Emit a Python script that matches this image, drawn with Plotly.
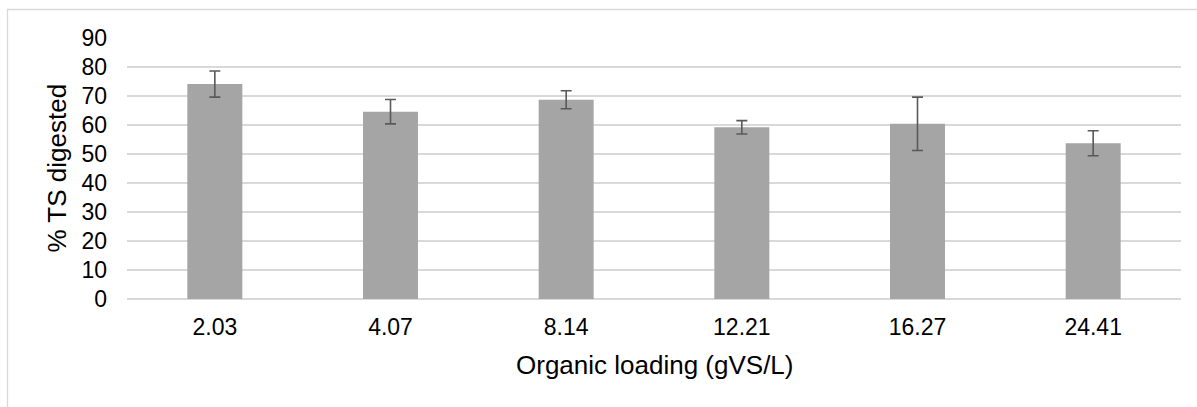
import plotly.graph_objects as go

categories = ["2.03", "4.07", "8.14", "12.21", "16.27", "24.41"]
ts_digested = [74.1, 64.6, 68.7, 59.2, 60.4, 53.7]
error_vals = [4.5, 4.2, 3.1, 2.3, 9.2, 4.3]
y_ticks = [0, 10, 20, 30, 40, 50, 60, 70, 80, 90]

W, H = 1197, 407
L, R, T, B = 127, 16, 38, 108
pw, ph = W - L - R, H - T - B

def px_x(p):
    return (p - L) / pw

def px_y(p):
    return (H - B - p) / ph

fig = go.Figure()
fig.add_trace(go.Bar(
    x=categories, y=ts_digested,
    marker=dict(color="#a5a5a5", line=dict(width=0)),
    width=0.313,
    error_y=dict(type="data", array=error_vals, visible=True,
                 color="#595959", thickness=1.6, width=5.5),
))

fig.update_layout(
    width=W, height=H,
    margin=dict(l=L, r=R, t=T, b=B),
    paper_bgcolor="white", plot_bgcolor="white",
    font=dict(family="Liberation Sans, Arial, sans-serif", color="#000000", size=23),
    showlegend=False,
    bargap=0.687,
    xaxis=dict(type="category", showgrid=False, zeroline=False, showline=False,
               ticks="", tickfont=dict(size=23), ticklabelstandoff=12),
    yaxis=dict(range=[0, 90], tickvals=y_ticks, showgrid=True, gridcolor="#d9d9d9",
               gridwidth=1.5, zeroline=True, zerolinecolor="#d9d9d9", zerolinewidth=1.5,
               showline=False, ticks="", tickfont=dict(size=23), ticklabelstandoff=19),
    shapes=[dict(type="rect", xref="paper", yref="paper",
                 x0=px_x(7.5), x1=px_x(1210), y0=px_y(420), y1=px_y(9.5),
                 line=dict(color="#d9d9d9", width=1.3), fillcolor="rgba(0,0,0,0)", layer="below")],
    annotations=[
        dict(text="Organic loading (gVS/L)", xref="paper", yref="paper",
             x=0.5, y=px_y(365), xanchor="center", yanchor="middle",
             showarrow=False, font=dict(size=26)),
        dict(text="% TS digested", xref="paper", yref="paper",
             x=px_x(56), y=0.5, xanchor="center", yanchor="middle", textangle=-90,
             showarrow=False, font=dict(size=26)),
    ],
)

fig.write_html("out.html")
